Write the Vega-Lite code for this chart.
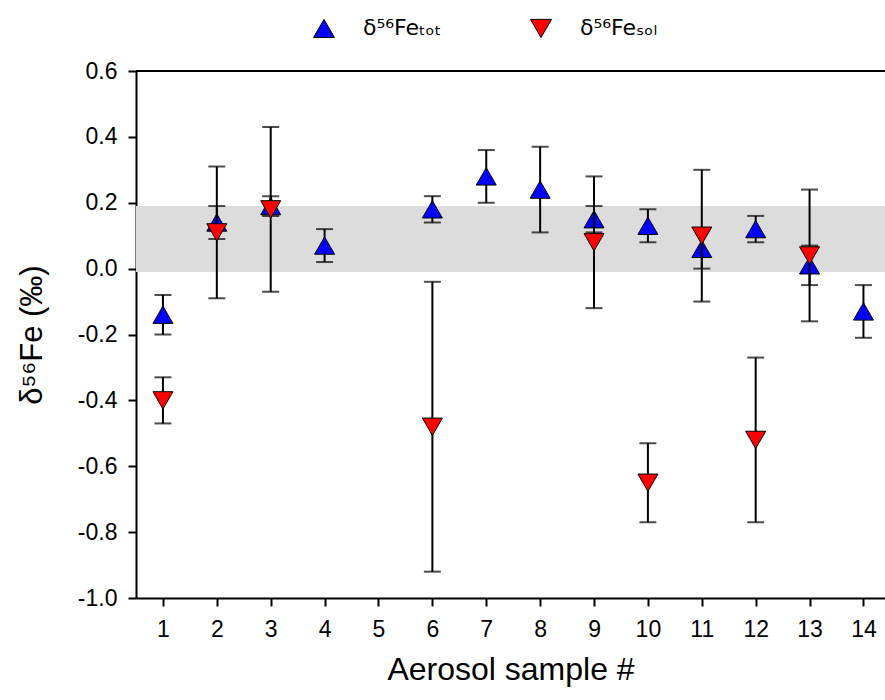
{
  "$schema": "https://vega.github.io/schema/vega-lite/v6.json",
  "autosize": {"type": "none"},
  "width": 749,
  "height": 527,
  "padding": {"left": 136, "top": 71, "right": 0, "bottom": 102},
  "background": "white",
  "config": {
    "view": {"stroke": null},
    "font": "Liberation Sans",
    "axis": {
      "domainColor": "black",
      "domainWidth": 2,
      "tickColor": "black",
      "tickWidth": 2,
      "tickSize": 8,
      "grid": false,
      "labelFont": "Liberation Sans",
      "labelFontSize": 23,
      "labelColor": "black",
      "titleFont": "Liberation Sans",
      "titleColor": "black",
      "titleFontWeight": "normal"
    },
    "axisX": {"labelPadding": 12, "titlePadding": 13, "titleFontSize": 32, "format": "d"},
    "axisY": {"labelPadding": 11, "titlePadding": 29, "titleFontSize": 31, "format": ".1f", "labelExpr": "replace(datum.label, '−', '-')"},
    "legend": {"padding": 0}
  },
  "data": {
    "values": [
      {"sample": 1, "g": "Tot", "value": -0.14, "lo": -0.20, "hi": -0.08},
      {"sample": 2, "g": "Tot", "value": 0.14, "lo": 0.09, "hi": 0.19},
      {"sample": 3, "g": "Tot", "value": 0.19, "lo": 0.16, "hi": 0.22},
      {"sample": 4, "g": "Tot", "value": 0.07, "lo": 0.02, "hi": 0.12},
      {"sample": 6, "g": "Tot", "value": 0.18, "lo": 0.14, "hi": 0.22},
      {"sample": 7, "g": "Tot", "value": 0.28, "lo": 0.20, "hi": 0.36},
      {"sample": 8, "g": "Tot", "value": 0.24, "lo": 0.11, "hi": 0.37},
      {"sample": 9, "g": "Tot", "value": 0.15, "lo": 0.11, "hi": 0.19},
      {"sample": 10, "g": "Tot", "value": 0.13, "lo": 0.08, "hi": 0.18},
      {"sample": 11, "g": "Tot", "value": 0.06, "lo": 0.00, "hi": 0.12},
      {"sample": 12, "g": "Tot", "value": 0.12, "lo": 0.08, "hi": 0.16},
      {"sample": 13, "g": "Tot", "value": 0.01, "lo": -0.05, "hi": 0.07},
      {"sample": 14, "g": "Tot", "value": -0.13, "lo": -0.21, "hi": -0.05},
      {"sample": 1, "g": "Sol", "value": -0.40, "lo": -0.47, "hi": -0.33},
      {"sample": 2, "g": "Sol", "value": 0.11, "lo": -0.09, "hi": 0.31},
      {"sample": 3, "g": "Sol", "value": 0.18, "lo": -0.07, "hi": 0.43},
      {"sample": 6, "g": "Sol", "value": -0.48, "lo": -0.92, "hi": -0.04},
      {"sample": 9, "g": "Sol", "value": 0.08, "lo": -0.12, "hi": 0.28},
      {"sample": 10, "g": "Sol", "value": -0.65, "lo": -0.77, "hi": -0.53},
      {"sample": 11, "g": "Sol", "value": 0.10, "lo": -0.10, "hi": 0.30},
      {"sample": 12, "g": "Sol", "value": -0.52, "lo": -0.77, "hi": -0.27},
      {"sample": 13, "g": "Sol", "value": 0.04, "lo": -0.16, "hi": 0.24}
    ]
  },
  "layer": [
    {
      "data": {"values": [{}]},
      "mark": {"type": "rect", "color": "#dcdcdc"},
      "encoding": {
        "y": {"datum": 0.19, "type": "quantitative", "scale": {"domain": [-1, 0.6], "nice": false, "zero": false},
              "axis": {"title": "δ⁵⁶Fe (‰)", "values": [-1, -0.8, -0.6, -0.4, -0.2, 0, 0.2, 0.4, 0.6]}},
        "y2": {"datum": -0.01}
      }
    },
    {
      "data": {"values": [{}]},
      "mark": {"type": "rule", "color": "black", "strokeWidth": 2},
      "encoding": {"y": {"datum": 0.6, "type": "quantitative"}}
    },
    {
      "transform": [{"filter": "datum.g == 'Tot'"}],
      "encoding": {
        "x": {"field": "sample", "type": "quantitative", "scale": {"domain": [0.5, 14.4], "nice": false, "zero": false},
              "axis": {"title": "Aerosol sample #", "values": [1,2,3,4,5,6,7,8,9,10,11,12,13,14]}}
      },
      "layer": [
        {"mark": {"type": "rule", "color": "black", "strokeWidth": 2},
         "encoding": {"y": {"field": "lo", "type": "quantitative", "axis": {"title": "δ⁵⁶Fe (‰)"}}, "y2": {"field": "hi"}}},
        {"mark": {"type": "tick", "orient": "horizontal", "size": 17, "thickness": 2, "color": "black"},
         "encoding": {"y": {"field": "lo", "type": "quantitative", "axis": {"title": "δ⁵⁶Fe (‰)"}}}},
        {"mark": {"type": "tick", "orient": "horizontal", "size": 17, "thickness": 2, "color": "black"},
         "encoding": {"y": {"field": "hi", "type": "quantitative", "axis": {"title": "δ⁵⁶Fe (‰)"}}}},
        {"mark": {"type": "point", "filled": true, "size": 400, "stroke": "black", "strokeWidth": 1, "opacity": 1},
         "encoding": {
           "y": {"field": "value", "type": "quantitative", "axis": {"title": "δ⁵⁶Fe (‰)"}},
           "shape": {"field": "g", "type": "nominal", "scale": {"domain": ["Tot", "Sol"], "range": ["triangle-up", "triangle-down"]},
                     "legend": {"orient": "none", "legendX": 177, "legendY": -54, "direction": "horizontal", "title": null,
                                "labelExpr": "datum.value == 'Tot' ? 'δ⁵⁶Feₜₒₜ' : 'δ⁵⁶Feₛₒₗ'",
                                "labelFontSize": 22, "labelColor": "black", "labelFont": "DejaVu Sans",
                                "symbolSize": 440, "symbolStrokeColor": "black", "symbolStrokeWidth": 1,
                                "labelOffset": 28, "columnPadding": 86}},
           "color": {"field": "g", "type": "nominal", "scale": {"domain": ["Tot", "Sol"], "range": ["#0000ff", "#ff0000"]}}
         }}
      ]
    },
    {
      "transform": [{"filter": "datum.g == 'Sol'"}],
      "encoding": {
        "x": {"field": "sample", "type": "quantitative", "axis": {"title": "Aerosol sample #"}}
      },
      "layer": [
        {"mark": {"type": "rule", "color": "black", "strokeWidth": 2},
         "encoding": {"y": {"field": "lo", "type": "quantitative", "axis": {"title": "δ⁵⁶Fe (‰)"}}, "y2": {"field": "hi"}}},
        {"mark": {"type": "tick", "orient": "horizontal", "size": 17, "thickness": 2, "color": "black"},
         "encoding": {"y": {"field": "lo", "type": "quantitative", "axis": {"title": "δ⁵⁶Fe (‰)"}}}},
        {"mark": {"type": "tick", "orient": "horizontal", "size": 17, "thickness": 2, "color": "black"},
         "encoding": {"y": {"field": "hi", "type": "quantitative", "axis": {"title": "δ⁵⁶Fe (‰)"}}}},
        {"mark": {"type": "point", "filled": true, "size": 400, "stroke": "black", "strokeWidth": 1, "opacity": 1},
         "encoding": {
           "y": {"field": "value", "type": "quantitative", "axis": {"title": "δ⁵⁶Fe (‰)"}},
           "shape": {"field": "g", "type": "nominal"},
           "color": {"field": "g", "type": "nominal"}
         }}
      ]
    }
  ]
}
